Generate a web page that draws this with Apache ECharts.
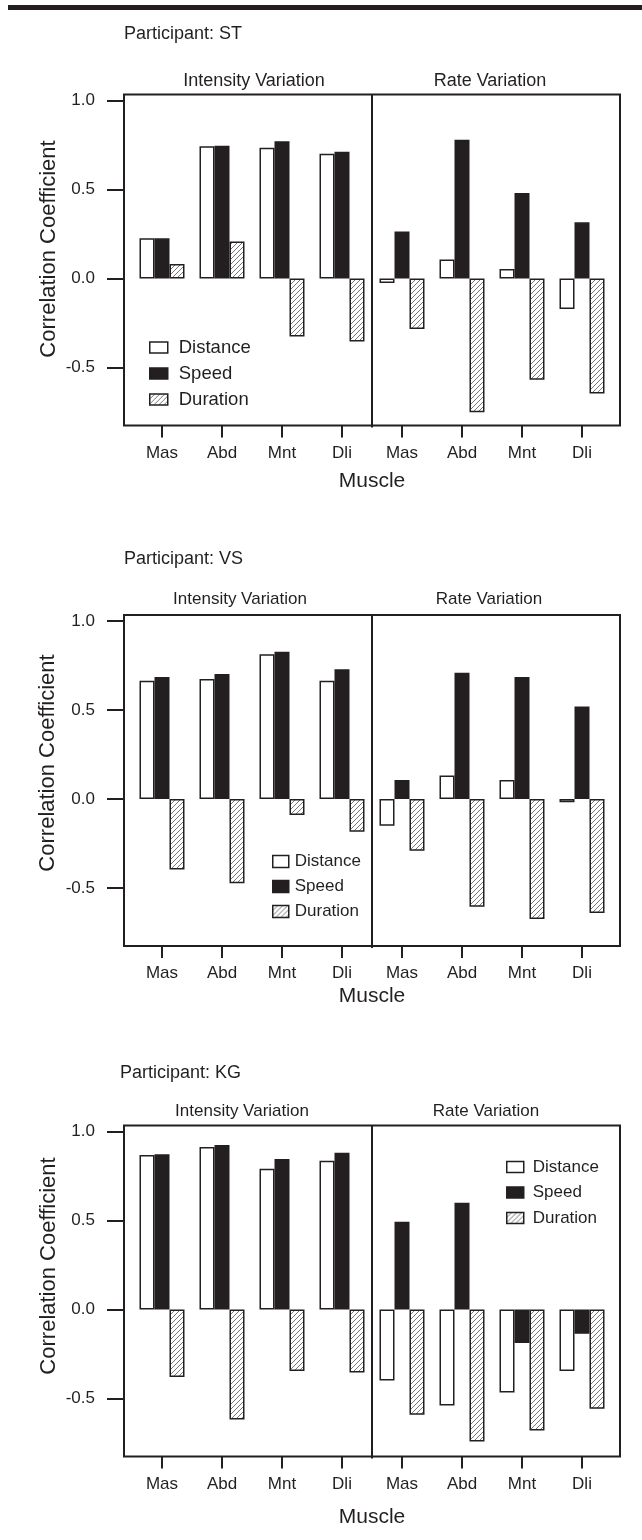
<!DOCTYPE html>
<html><head><meta charset="utf-8">
<script src="https://cdn.jsdelivr.net/npm/echarts@6/dist/echarts.min.js"></script>
<style>html,body{margin:0;padding:0;background:#fff}#c{width:642px;height:1540px}</style>
</head><body><div id="c"></div>
<script>
// ---- data ----
const categories = ['Mas','Abd','Mnt','Dli','Mas','Abd','Mnt','Dli'];
const yTicks = [-0.5, 0, 0.5, 1.0];
const seriesNames = ['Distance','Speed','Duration'];
const participants = ['ST','VS','KG'];
const conditionLabels = ['Intensity Variation','Rate Variation'];
const axisTitleX = 'Muscle';
const axisTitleY = 'Correlation Coefficient';

const stDistance = [0.225, 0.742, 0.734, 0.700, -0.026, 0.107, 0.053, -0.172];
const stSpeed    = [0.225, 0.745, 0.770, 0.712, 0.264, 0.779, 0.480, 0.315];
const stDuration = [0.081, 0.208, -0.326, -0.354, -0.284, -0.751, -0.569, -0.646];

const vsDistance = [0.664, 0.673, 0.813, 0.664, -0.151, 0.132, 0.106, -0.019];
const vsSpeed    = [0.685, 0.701, 0.826, 0.729, 0.106, 0.709, 0.685, 0.519];
const vsDuration = [-0.396, -0.474, -0.090, -0.185, -0.291, -0.606, -0.675, -0.640];

const kgDistance = [0.867, 0.912, 0.790, 0.835, -0.399, -0.539, -0.466, -0.346];
const kgSpeed    = [0.871, 0.923, 0.845, 0.880, 0.493, 0.599, -0.189, -0.137];
const kgDuration = [-0.380, -0.618, -0.346, -0.354, -0.592, -0.742, -0.680, -0.558];

const panelData = [
  [stDistance, stSpeed, stDuration],
  [vsDistance, vsSpeed, vsDuration],
  [kgDistance, kgSpeed, kgDuration]
];

// ---- layout (positions / styles only) ----
const FONT = '"Liberation Sans", Arial, Helvetica, sans-serif';
const INK = '#231f20';
const BOX_L = 124, BOX_R = 620, DIV_X = 372, BOX_H = 331;
const layout = [
  { top: 94.5, partY: 34, partX: 124, partFs: 18, condY: 81, condX: [254, 490], condFs: 18, yTitle: [49, 249], nameGap: 45,
    legend: { left: 149, top: 338, iw: 18, ih: 11, fs: 18.5, gap: 7, pad: 6 } },
  { top: 615, partY: 559, partX: 124, partFs: 18, condY: 599, condX: [240, 489], condFs: 17, yTitle: [48, 763], nameGap: 40,
    legend: { left: 272, top: 853, iw: 16, ih: 12, fs: 17, gap: 8, pad: 1 } },
  { top: 1125.5, partY: 1073, partX: 120, partFs: 18, condY: 1111, condX: [242, 486], condFs: 17, yTitle: [49, 1266], nameGap: 50,
    legend: { left: 506, top: 1158.5, iw: 17, ih: 11, fs: 17, gap: 8.5, pad: 4 } }
];

function makeHatch() {
  const c = document.createElement('canvas');
  c.width = 5; c.height = 5;
  const g = c.getContext('2d');
  g.fillStyle = '#fff'; g.fillRect(0, 0, 5, 5);
  g.strokeStyle = '#777'; g.lineWidth = 1;
  g.beginPath();
  g.moveTo(0, 5); g.lineTo(5, 0);
  g.moveTo(-1, 1); g.lineTo(1, -1);
  g.moveTo(4, 6); g.lineTo(6, 4);
  g.stroke();
  return c;
}
const fills = ['#ffffff', INK, { image: makeHatch(), repeat: 'repeat' }];

const grids = [], xAxes = [], yAxes = [], series = [], legends = [], graphics = [];

graphics.push({ type: 'rect', shape: { x: 8, y: 5, width: 634, height: 5 }, style: { fill: INK } });

layout.forEach((L, p) => {
  grids.push({ left: 132, width: 480, top: L.top, height: BOX_H });
  xAxes.push({
    gridIndex: p, type: 'category', data: categories,
    axisLine: { show: false, onZero: false },
    axisTick: { show: true, alignWithLabel: true, length: 12, lineStyle: { color: INK, width: 2 } },
    axisLabel: { margin: 19, fontSize: 17, color: INK, fontFamily: FONT, interval: 0 },
    name: axisTitleX, nameLocation: 'middle', nameGap: L.nameGap,
    nameTextStyle: { fontSize: 21, color: INK, fontFamily: FONT }
  });
  yAxes.push({
    gridIndex: p, type: 'value', min: -0.826, max: 1.033, offset: 8,
    axisLine: { show: false }, splitLine: { show: false },
    axisTick: { show: true, length: 17, customValues: yTicks, lineStyle: { color: INK, width: 2 } },
    axisLabel: { customValues: yTicks, formatter: v => v.toFixed(1), margin: 29, fontSize: 17, color: INK, fontFamily: FONT }
  });
  seriesNames.forEach((nm, k) => {
    series.push({
      type: 'bar', name: nm, xAxisIndex: p, yAxisIndex: p,
      data: panelData[p][k], barWidth: 15, barGap: '0%',
      itemStyle: { color: fills[k], borderColor: INK, borderWidth: 1.5 },
      emphasis: { disabled: true }, animation: false
    });
  });
  const lg = L.legend;
  legends.push({
    data: seriesNames, orient: 'vertical', left: lg.left, top: lg.top, padding: 0,
    itemWidth: lg.iw, itemHeight: lg.ih, itemGap: lg.gap, icon: 'rect', selectedMode: false,
    itemStyle: { borderColor: INK, borderWidth: 1.5 },
    textStyle: { fontSize: lg.fs, color: INK, fontFamily: FONT, padding: [0, 0, 0, lg.pad] }
  });
  // frame
  graphics.push({ type: 'rect', shape: { x: BOX_L, y: L.top, width: BOX_R - BOX_L, height: BOX_H },
    style: { fill: 'none', stroke: INK, lineWidth: 2 }, z: 10 });
  graphics.push({ type: 'line', shape: { x1: DIV_X, y1: L.top, x2: DIV_X, y2: L.top + BOX_H + 2 },
    style: { stroke: INK, lineWidth: 2 }, z: 10 });
  graphics.push({ type: 'text', x: L.partX, y: L.partY,
    style: { text: 'Participant: ' + participants[p], font: L.partFs + 'px ' + FONT, fill: INK, align: 'left', verticalAlign: 'middle' } });
  conditionLabels.forEach((t, j) => {
    graphics.push({ type: 'text', x: L.condX[j], y: L.condY,
      style: { text: t, font: L.condFs + 'px ' + FONT, fill: INK, align: 'center', verticalAlign: 'middle' } });
  });
  graphics.push({ type: 'text', x: L.yTitle[0], y: L.yTitle[1], rotation: Math.PI / 2,
    style: { text: axisTitleY, font: '22px ' + FONT, fill: INK, align: 'center', verticalAlign: 'middle' } });
});

const chart = echarts.init(document.getElementById('c'), null, { renderer: 'canvas' });
chart.setOption({
  backgroundColor: '#fff',
  animation: false,
  textStyle: { fontFamily: FONT },
  grid: grids, xAxis: xAxes, yAxis: yAxes, series: series, legend: legends, graphic: graphics
});
</script></body></html>
